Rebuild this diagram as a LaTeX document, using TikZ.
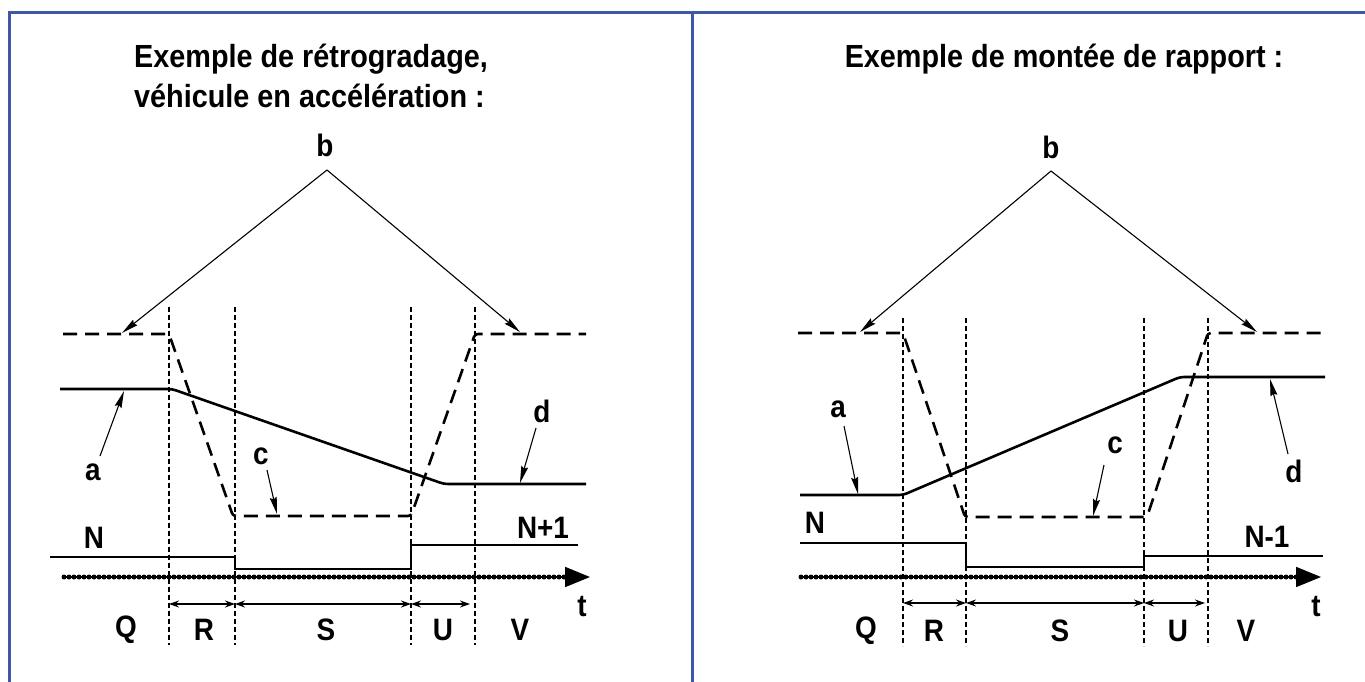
\documentclass[tikz,border=0pt]{standalone}
\usepackage{fontspec}
\setmainfont{Liberation Sans}
\newfontfamily\condsans{Liberation Sans}[FakeStretch=0.9]
\usetikzlibrary{arrows.meta}
\definecolor{framecol}{RGB}{62,88,166}
\begin{document}
\begin{tikzpicture}[x=1pt,y=-1pt,
  lbl/.style={font=\condsans\fontsize{31}{36}\selectfont\bfseries, inner sep=0pt},
  ttl/.style={font=\condsans\fontsize{32}{38}\selectfont\bfseries, inner sep=0pt, anchor=base west},
  frame/.style={draw=framecol, line width=3pt},
  level/.style={line width=2.6pt, dash pattern=on 14pt off 8pt, rounded corners=3pt},
  curve/.style={line width=2.6pt, rounded corners=4pt},
  gearline/.style={line width=2.4pt},
  guide/.style={line width=1.1pt, dash pattern=on 5pt off 3pt},
  pointer/.style={line width=1.1pt, -{Stealth[length=17pt,width=7pt,inset=2pt]}},
  dim/.style={line width=1.1pt, {Stealth[length=10pt,width=7pt]}-{Stealth[length=10pt,width=7pt]}},
  beads/.style={line width=5pt, dash pattern=on 0pt off 5pt, line cap=round},
  axisline/.style={line width=1.8pt, -{Triangle[length=25pt,width=20pt]}},
]
\useasboundingbox (0,0) rectangle (1365,682);
% frame
\draw[frame] (9,682) -- (9,12.5) -- (1365,12.5);
\draw[frame] (692,12.5) -- (692,682);
% titles
\node[ttl] (t1a) at (134,68) {Exemple de rétrogradage,};
\node[ttl] (t1b) at (134,108) {véhicule en accélération :};
\node[ttl, anchor=base] (t2) at (1064,68) {Exemple de montée de rapport :};

% ---------- left panel ----------
\foreach \x in {169,235,411,475} {\draw[guide] (\x,307) -- (\x,645);}
\draw[level] (63,334) -- (169,334) -- (233,516) -- (411,516) -- (475,334) -- (586,334);
\draw[curve] (60,389) -- (172,389) -- (444,484) -- (586,484);
\draw[gearline] (50,557) -- (235,557) -- (235,569) -- (411,569) -- (411,545) -- (578,545);
\draw[beads] (64,577) -- (566,577);
\coordinate (axL0) at (62,577);
\coordinate (axL1) at (590,577);
\draw[axisline] (axL0) -- (axL1);
\coordinate (gL1) at (169,604);
\coordinate (gL2) at (235,604);
\coordinate (gL3) at (411,604);
\coordinate (gL4) at (470,604);
\draw[dim] (gL1) -- (gL2);
\draw[dim] (gL2) -- (gL3);
\draw[dim] (gL3) -- (gL4);
\node[lbl] (qL) at (126,630) {Q};
\node[lbl] (rL) at (204,630) {R};
\node[lbl] (sL) at (326,630) {S};
\node[lbl] (uL) at (443,630) {U};
\node[lbl] (vL) at (520,630) {V};
\node[lbl] (tL) at (582,607) {t};
\node[lbl] (nL) at (94,538) {N};
\node[lbl] (n1L) at (543,528) {N+1};
\node[lbl] (bL) at (325,145) {b};
\coordinate (bLa) at (327,170);
\coordinate (bL1) at (122,333);
\coordinate (bL2) at (520,332);
\draw[pointer] (bLa) -- (bL1);
\draw[pointer] (bLa) -- (bL2);
\node[lbl] (aL) at (93,472) {a};
\coordinate (aLs) at (100,456); \coordinate (aLe) at (124,391);
\draw[pointer] (aLs) -- (aLe);
\node[lbl] (cL) at (261,456) {c};
\coordinate (cLs) at (267,470); \coordinate (cLe) at (277,514);
\draw[pointer] (cLs) -- (cLe);
\node[lbl] (dL) at (542,411) {d};
\coordinate (dLs) at (536,428); \coordinate (dLe) at (520,483);
\draw[pointer] (dLs) -- (dLe);

% ---------- right panel ----------
\foreach \x in {903,966,1144,1208} {\draw[guide] (\x,318) -- (\x,646);}
\draw[level] (798,333) -- (903,333) -- (965,517) -- (1147,517) -- (1208,333) -- (1323,333);
\draw[curve] (800,495) -- (903,495) -- (1180,377) -- (1325,377);
\draw[gearline] (800,543) -- (966,543) -- (966,567) -- (1144,567) -- (1144,556) -- (1323,556);
\draw[beads] (801,577) -- (1297,577);
\coordinate (axR0) at (799,577);
\coordinate (axR1) at (1321,577);
\draw[axisline] (axR0) -- (axR1);
\coordinate (gR1) at (903,603);
\coordinate (gR2) at (966,603);
\coordinate (gR3) at (1144,603);
\coordinate (gR4) at (1205,603);
\draw[dim] (gR1) -- (gR2);
\draw[dim] (gR2) -- (gR3);
\draw[dim] (gR3) -- (gR4);
\node[lbl] (qR) at (866,631) {Q};
\node[lbl] (rR) at (934,631) {R};
\node[lbl] (sR) at (1060,631) {S};
\node[lbl] (uR) at (1178,631) {U};
\node[lbl] (vR) at (1246,631) {V};
\node[lbl] (tR) at (1316,607) {t};
\node[lbl] (nR) at (815,523) {N};
\node[lbl] (n1R) at (1267,537) {N-1};
\node[lbl] (bR) at (1051,147) {b};
\coordinate (bRa) at (1051,171);
\coordinate (bR1) at (860,332);
\coordinate (bR2) at (1257,332);
\draw[pointer] (bRa) -- (bR1);
\draw[pointer] (bRa) -- (bR2);
\node[lbl] (aR) at (838,409) {a};
\coordinate (aRs) at (844,426); \coordinate (aRe) at (858,494);
\draw[pointer] (aRs) -- (aRe);
\node[lbl] (cR) at (1115,445) {c};
\coordinate (cRs) at (1104,465); \coordinate (cRe) at (1093,516);
\draw[pointer] (cRs) -- (cRe);
\node[lbl] (dR) at (1294,471) {d};
\coordinate (dRs) at (1288,454); \coordinate (dRe) at (1270,379);
\draw[pointer] (dRs) -- (dRe);
\end{tikzpicture}
\end{document}
